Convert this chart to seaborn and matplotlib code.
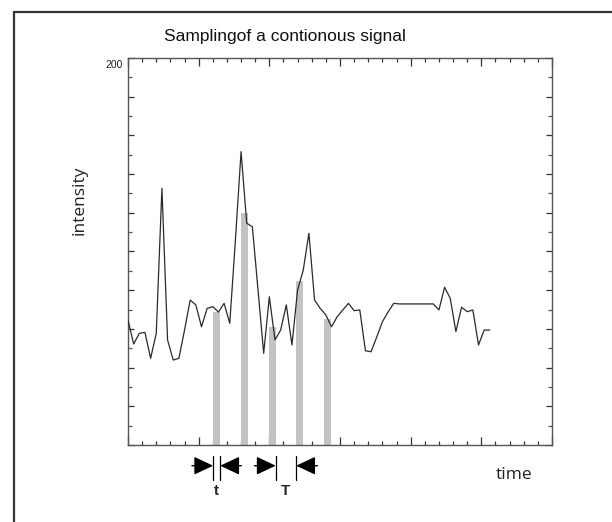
import numpy as np
import pandas as pd
import matplotlib
matplotlib.use("Agg")
import matplotlib.pyplot as plt
from matplotlib.lines import Line2D
from matplotlib.ticker import MultipleLocator, NullFormatter
import seaborn as sns

# ---- data ----
sample_step = 0.8
intensity = [64.6, 52.2, 57.7, 58.2, 44.8, 57.7, 132.7, 54.3, 43.9, 44.8,
             59.4, 74.9, 72.4, 61.1, 70.6, 71.5, 68.7, 73.2, 62.9, 105.9,
             151.6, 114.6, 112.8, 80.1, 47.4, 76.6, 54.3, 59.4, 72.4, 51.7,
             80.1, 90.4, 109.4, 74.9, 70.6, 67.2, 61.1, 66.3, 69.8, 73.2,
             69.4, 69.8, 48.7, 48.2, 55.8, 63.7, 68.7, 73.2, 72.9, 72.9,
             72.9, 72.9, 72.9, 72.9, 72.9, 69.8, 81.5, 75.8, 58.6, 71.2,
             68.9, 69.8, 51.7, 59.4, 59.4]
time = np.arange(len(intensity)) * sample_step

bar_x = [12.55, 16.45, 20.4, 24.3, 28.2]
bar_h = [68.9, 119.7, 61.1, 84.9, 65.1]
bar_w = 1.0

title = "Samplingof a contionous signal"
xlabel = "time"
ylabel = "intensity"
ytick_label = "200"

# ---- figure ----
sns.set_theme(style="white")
plt.rcParams['font.family'] = ['Liberation Sans', 'DejaVu Sans']

fig = plt.figure(figsize=(6.12, 5.22), dpi=100)
ax = fig.add_axes([128/612, 1-445/522, 424/612, 387/522])

line_df = pd.DataFrame({"time": time, "intensity": intensity})
bar_df = pd.DataFrame({"x": bar_x, "h": bar_h})

min_gap = np.min(np.diff(bar_x))
sns.barplot(data=bar_df, x="x", y="h", native_scale=True, width=bar_w/min_gap,
            color="#c3c3c3", saturation=1, linewidth=0, ax=ax, zorder=2)
sns.lineplot(data=line_df, x="time", y="intensity", color="#2a2a2a", lw=0.9,
             ax=ax, zorder=3)

ax.set_xlim(0, 60)
ax.set_ylim(0, 200)
ax.xaxis.set_major_locator(MultipleLocator(10))
ax.xaxis.set_minor_locator(MultipleLocator(2))
ax.yaxis.set_major_locator(MultipleLocator(20))
ax.yaxis.set_minor_locator(MultipleLocator(10))
ax.xaxis.set_major_formatter(NullFormatter())
ax.yaxis.set_major_formatter(NullFormatter())
ax.tick_params(which="major", axis="x", direction="in", length=6, width=0.9,
               color="#333333", top=True, bottom=True)
ax.tick_params(which="minor", axis="x", direction="in", length=3, width=0.9,
               color="#333333", top=True, bottom=True)
ax.tick_params(which="major", axis="y", direction="in", length=4, width=0.9,
               color="#333333", left=True, right=True)
ax.tick_params(which="minor", axis="y", direction="in", length=3, width=0.9,
               color="#555555", left=True, right=True)
for s in ax.spines.values():
    s.set_visible(True)
    s.set_color("#555555")
    s.set_linewidth(1.0)
ax.set_xlabel("")
ax.set_ylabel("")

ax.text(-0.012, 0.996, ytick_label, transform=ax.transAxes, ha="right",
        va="top", fontsize=7.5, color="#222222")

fig.text(285/612, 1-37/522, title, ha="center", va="center", fontsize=12.5,
         color="#111111")
fig.text(80/612, 1-200/522, ylabel, ha="center", va="center", rotation=90,
         fontsize=12.5, family=["Open Sans", "DejaVu Sans"], color="#222222")
fig.text(514/612, 1-475/522, xlabel, ha="center", va="center",
         fontsize=12.5, family=["Open Sans", "DejaVu Sans"], color="#222222")

# ---- t / T annotations ----
arrow_y = -0.0535
vl_y = (-0.028, -0.090)
tail = 3.0
aprops = dict(arrowstyle="-|>,head_length=0.85,head_width=0.4",
              mutation_scale=14, color="black", lw=1.0, shrinkA=0, shrinkB=0)

def hline_arrow(x_tail, x_tip):
    ax.annotate("", xy=(x_tip, arrow_y), xytext=(x_tail, arrow_y),
                xycoords=("data", "axes fraction"),
                textcoords=("data", "axes fraction"),
                arrowprops=aprops, annotation_clip=False)

def vline(x):
    ax.plot([x, x], vl_y, color="black", lw=0.9, clip_on=False,
            transform=ax.get_xaxis_transform())

b0l = bar_x[0] - bar_w/2
b0r = bar_x[0] + bar_w/2
vline(b0l); vline(b0r)
hline_arrow(b0l - tail, b0l)
hline_arrow(b0r + tail, b0r)
ax.text(bar_x[0], -0.119, "t", transform=ax.get_xaxis_transform(),
        ha="center", va="center", fontsize=11, fontweight="bold")

b2r = bar_x[2] + bar_w/2
b3l = bar_x[3] - bar_w/2
vline(b2r); vline(b3l)
hline_arrow(b2r - tail, b2r)
hline_arrow(b3l + tail, b3l)
ax.text((b2r + b3l)/2, -0.119, "T", transform=ax.get_xaxis_transform(),
        ha="center", va="center", fontsize=11, fontweight="bold")

# outer frame (left and top edges visible)
fig.add_artist(Line2D([14/612, 14/612], [0, 1-12/522], color="#333333", lw=1.6))
fig.add_artist(Line2D([14/612, 1], [1-12/522, 1-12/522], color="#333333", lw=1.6))

fig.savefig("out.png", dpi=100)
